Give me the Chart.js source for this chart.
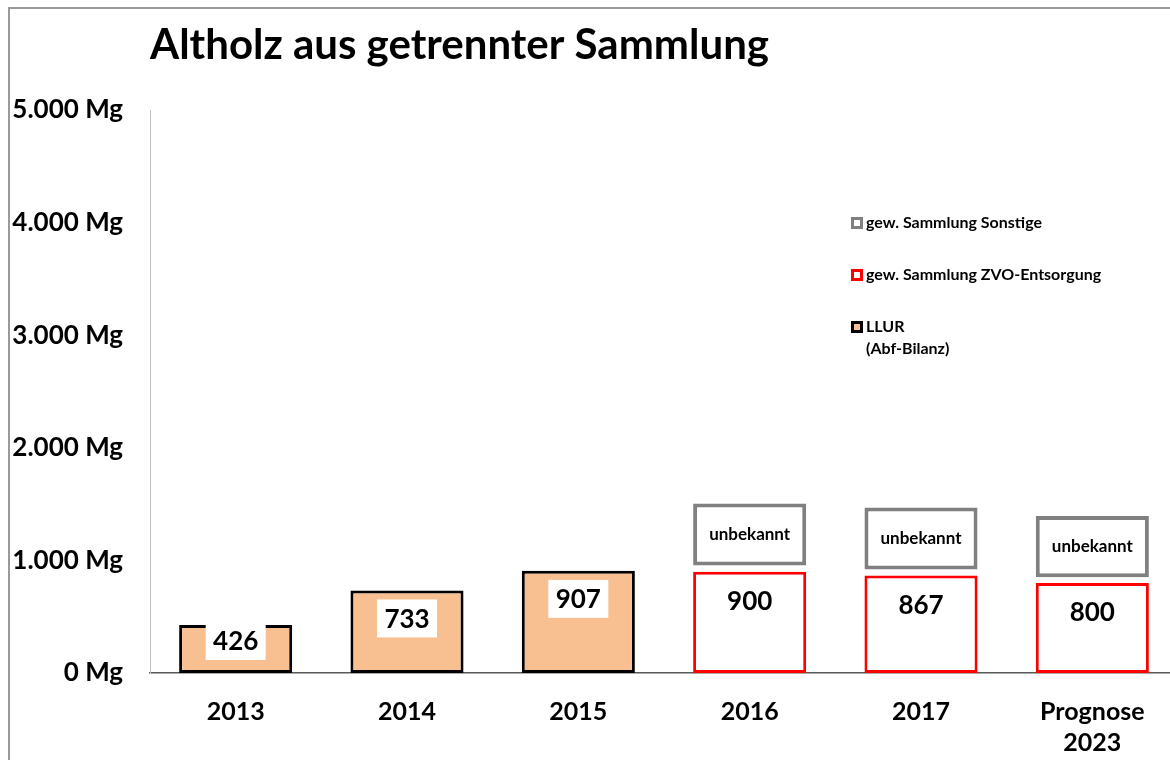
<!DOCTYPE html>
<html>
<head>
<meta charset="utf-8">
<script src="https://cdn.jsdelivr.net/npm/chart.js@4.4.0/dist/chart.umd.min.js"></script>
<style>
  html, body { margin: 0; padding: 0; background: #fff; }
  #wrap { position: relative; width: 1170px; height: 760px; overflow: hidden; }
  #rahmen { position: absolute; left: 8px; top: 7px; width: 2000px; height: 2000px;
            border-left: 2px solid #9a9a9a; border-top: 2px solid #9a9a9a; }
  canvas { position: absolute; left: 0; top: 0; }
</style>
</head>
<body>
<div id="wrap">
  <div id="rahmen"></div>
  <canvas id="grafik" width="1178" height="760"></canvas>
</div>
<script>
const TITEL = "Altholz aus getrennter Sammlung";
const KATEGORIEN = ["2013", "2014", "2015", "2016", "2017", ["Prognose", "2023"]];
const LLUR = [426, 733, 907, null, null, null];
const ZVO = [null, null, null, 900, 867, 800];
// Sonstige: Menge unbekannt, nur als Kasten über ZVO angedeutet [von, bis]
const SONSTIGE = [null, null, null, [955, 1505], [920, 1470], [850, 1395]];
const Y_TICKS = [0, 1000, 2000, 3000, 4000, 5000];

const SCHRIFT = "Lato, 'Open Sans', sans-serif";

function mg(v) {
  return String(v).replace(/\B(?=(\d{3})+(?!\d))/g, ".") + " Mg";
}

// Titel oben links
const titel = {
  id: "titel",
  afterDraw(chart) {
    const ctx = chart.ctx;
    ctx.save();
    ctx.font = "bold 42px " + SCHRIFT;
    ctx.fillStyle = "#000";
    ctx.textBaseline = "middle";
    ctx.textAlign = "left";
    ctx.fillText(TITEL, 150, 45);
    ctx.restore();
  }
};

// Werte an den Balken
const beschriftung = {
  id: "beschriftung",
  afterDatasetsDraw(chart) {
    const ctx = chart.ctx;
    const basis = chart.scales.y.getPixelForValue(0);
    ctx.save();
    ctx.textAlign = "center";
    ctx.textBaseline = "middle";
    ctx.fillStyle = "#000";
    chart.data.datasets.forEach((ds, i) => {
      const meta = chart.getDatasetMeta(i);
      meta.data.forEach((bar, j) => {
        const v = ds.data[j];
        if (v == null) return;
        if (ds.key === "llur") {
          const cy = Math.min(bar.y + 28, basis - 32);
          ctx.fillStyle = "#fff";
          ctx.fillRect(bar.x - 30, cy - 19, 60, 38);
          ctx.fillStyle = "#000";
          ctx.font = "bold 26px " + SCHRIFT;
          ctx.fillText(v, bar.x, cy + 1);
        } else if (ds.key === "zvo") {
          ctx.font = "bold 26px " + SCHRIFT;
          ctx.fillText(v, bar.x, bar.y + 30);
        } else {
          ctx.font = "bold 17px " + SCHRIFT;
          ctx.fillText("unbekannt", bar.x, (bar.y + bar.base) / 2);
        }
      });
    });
    ctx.restore();
  }
};

// Legende rechts in der Grafik
const legende = {
  id: "legende",
  afterDraw(chart) {
    const ctx = chart.ctx;
    const eintraege = [
      { ds: chart.data.datasets[2], y: 223 },
      { ds: chart.data.datasets[1], y: 275 },
      { ds: chart.data.datasets[0], y: 327 }
    ];
    ctx.save();
    ctx.textAlign = "left";
    ctx.textBaseline = "middle";
    eintraege.forEach(e => {
      ctx.fillStyle = e.ds.backgroundColor;
      ctx.fillRect(851, e.y - 6, 12, 12);
      ctx.strokeStyle = e.ds.borderColor;
      ctx.lineWidth = 3;
      ctx.strokeRect(852.5, e.y - 4.5, 9, 9);
      ctx.fillStyle = "#000";
      ctx.font = "bold 16px " + SCHRIFT;
      const zeilen = Array.isArray(e.ds.label) ? e.ds.label : [e.ds.label];
      zeilen.forEach((z, k) => ctx.fillText(z, 866, e.y + k * 22));
    });
    ctx.restore();
  }
};

new Chart(document.getElementById("grafik"), {
  type: "bar",
  data: {
    labels: KATEGORIEN,
    datasets: [
      {
        key: "llur",
        label: ["LLUR", "(Abf-Bilanz)"],
        data: LLUR,
        backgroundColor: "rgb(248,192,144)",
        borderColor: "#000",
        borderWidth: 3,
        borderSkipped: false
      },
      {
        key: "zvo",
        label: "gew. Sammlung ZVO-Entsorgung",
        data: ZVO,
        backgroundColor: "#fff",
        borderColor: "#ff0000",
        borderWidth: 3,
        borderSkipped: false
      },
      {
        key: "sonstige",
        label: "gew. Sammlung Sonstige",
        data: SONSTIGE,
        backgroundColor: "#fff",
        borderColor: "#808080",
        borderWidth: 4,
        borderSkipped: false
      }
    ]
  },
  options: {
    responsive: false,
    animation: false,
    grouped: false,
    barPercentage: 0.66,
    categoryPercentage: 1,
    layout: { padding: { top: 110, left: 0, right: 0, bottom: 0 } },
    plugins: {
      legend: { display: false },
      tooltip: { enabled: false }
    },
    scales: {
      x: {
        grid: { display: false, drawTicks: false },
        border: { display: true, color: "#595959", width: 1.5 },
        ticks: {
          color: "#000",
          padding: 23,
          maxRotation: 0,
          autoSkip: false,
          font: { family: SCHRIFT, size: 25, weight: "bold", lineHeight: 1.25 }
        },
        afterFit(scale) { scale.height = 87; }
      },
      y: {
        min: 0,
        max: 5000,
        afterBuildTicks(scale) { scale.ticks = Y_TICKS.map(v => ({ value: v })); },
        grid: { display: false, drawTicks: false },
        border: { display: true, color: "#bfbfbf", width: 1 },
        ticks: {
          color: "#000",
          padding: 27,
          callback: v => mg(v),
          font: { family: SCHRIFT, size: 26, weight: "bold" }
        },
        afterFit(scale) { scale.width = 150; }
      }
    }
  },
  plugins: [beschriftung, legende, titel]
});
</script>
</body>
</html>
